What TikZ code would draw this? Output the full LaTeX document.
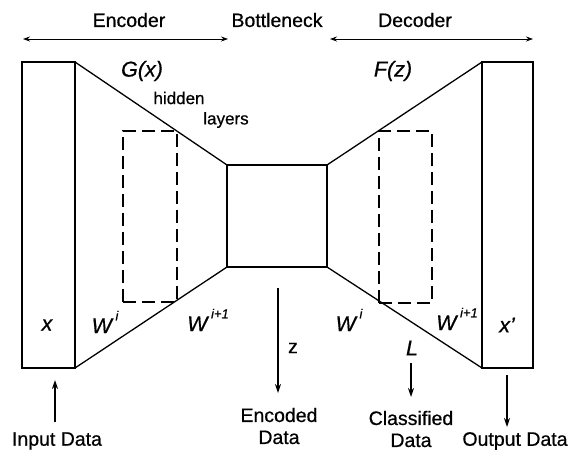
\documentclass[tikz,border=0pt]{standalone}
\usepackage{fontspec}
\setmainfont{Liberation Sans}[FakeBold=0.6]
\usetikzlibrary{arrows.meta}
\newcommand{\supr}[1]{\,\raisebox{0.6em}{\fontsize{13}{13}\selectfont #1}}
\begin{document}
\begin{tikzpicture}[x=1pt,y=-1pt,
  layerbox/.style={draw,line width=1.3pt,outer sep=0pt,inner sep=0pt},
  hiddenbox/.style={draw,line width=1.2pt,dash pattern=on 13pt off 6pt,outer sep=0pt,inner sep=0pt},
  edge/.style={line width=1.3pt},
  span/.style={line width=0.8pt,{Stealth[length=7pt,width=5pt]}-{Stealth[length=7pt,width=5pt]}},
  flow/.style={line width=1.2pt,-{Stealth[length=9pt,width=6pt]}},
  lbl/.style={font=\fontsize{19.5}{22}\selectfont,inner sep=0pt,align=center},
  mlbl/.style={font=\fontsize{21.5}{24}\selectfont\itshape,inner sep=0pt},
  small/.style={font=\fontsize{17}{20}\selectfont,inner sep=0pt}]
\useasboundingbox (0,0) rectangle (575,451);

% input, bottleneck and output layers
\node[layerbox,minimum width=53pt,minimum height=306pt] (inL) at (48.5,215) {};
\node[layerbox,minimum width=100pt,minimum height=102pt] (mid) at (277,216) {};
\node[layerbox,minimum width=51pt,minimum height=306pt] (outR) at (507.5,215) {};

% encoder and decoder funnels
\draw[edge] (inL.north east) -- (mid.north west);
\draw[edge] (inL.south east) -- (mid.south west);
\draw[edge] (mid.north east) -- (outR.north west);
\draw[edge] (mid.south east) -- (outR.south west);

% hidden layers
\node[hiddenbox,minimum width=54pt,minimum height=171pt] (hidL) at (150,216.5) {};
\node[hiddenbox,minimum width=53pt,minimum height=172pt] (hidR) at (405.5,217) {};

% section headings with span arrows
\node[lbl] (enc) at (129,20) {Encoder};
\node[lbl] (bott) at (277,20) {Bottleneck};
\node[lbl] (dec) at (415,20) {Decoder};
\coordinate (encA) at (23,39);
\coordinate (encB) at (228,39);
\coordinate (decA) at (330,39);
\coordinate (decB) at (533,39);
\draw[span] (encA) -- (encB);
\draw[span] (decA) -- (decB);

% function and weight labels
\node[mlbl] (gx) at (142,71) {G(x)};
\node[mlbl] (fz) at (393,71) {F(z)};
\node[small] (hid1) at (179,98) {hidden};
\node[small] (hid2) at (226,120) {layers};
\node[mlbl] (xin) at (47,325) {x};
\node[mlbl] (wi1) at (105,322) {W\supr{i}};
\node[mlbl] (wj1) at (208,320) {W\supr{i+1}};
\node[lbl] (zz) at (293,348) {z};
\node[mlbl] (wi2) at (349,320) {W\supr{i}};
\node[mlbl] (ll) at (412,348) {L};
\node[mlbl] (wj2) at (457,319) {W\supr{i+1}};
\node[mlbl] (xout) at (507,325) {x'};

% data flow
\node[lbl] (inD) at (57,441) {Input Data};
\node[lbl] (encD) at (279,426) {Encoded\\Data};
\node[lbl] (clsD) at (411,429) {Classified\\Data};
\node[lbl] (outD) at (515,441) {Output Data};
\coordinate (inS) at (55,422);
\coordinate (inE) at (55,380);
\coordinate (zS) at (278,288);
\coordinate (zE) at (278,393);
\coordinate (lS) at (411,363);
\coordinate (lE) at (411,397);
\coordinate (oS) at (507,375);
\coordinate (oE) at (507,427);
\draw[flow] (inS) -- (inE);
\draw[flow] (zS) -- (zE);
\draw[flow] (lS) -- (lE);
\draw[flow] (oS) -- (oE);
\end{tikzpicture}
\end{document}
